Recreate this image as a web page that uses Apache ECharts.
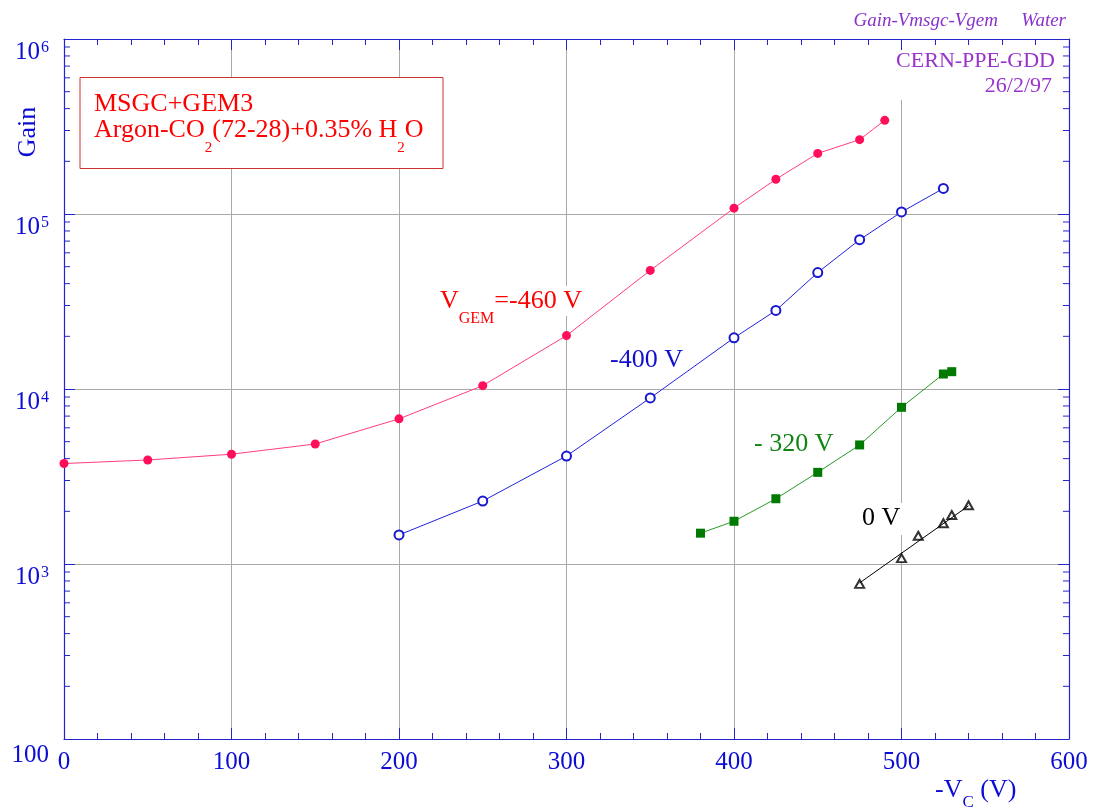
<!DOCTYPE html>
<html>
<head>
<meta charset="utf-8">
<script src="https://cdn.jsdelivr.net/npm/echarts@6/dist/echarts.min.js"></script>
<style>html,body{margin:0;padding:0;background:#fff}#c{width:1093px;height:812px}</style>
</head>
<body>
<div id="c"></div>
<script>
// ---- data ----
const xGem460 = [0, 50, 100, 150, 200, 250, 300, 350, 400, 425, 450, 475, 490];
const gainGem460 = [3750, 3930, 4240, 4850, 6750, 10450, 20200, 47600, 108000, 158000, 222000, 266000, 343000];

const xGem400 = [200, 250, 300, 350, 400, 425, 450, 475, 500, 525];
const gainGem400 = [1465, 2290, 4140, 8890, 19600, 28100, 46300, 71300, 102700, 140000];

const xGem320 = [380, 400, 425, 450, 475, 500, 525, 530];
const gainGem320 = [1500, 1755, 2360, 3340, 4790, 7860, 12180, 12560];

const xGem0 = [475, 500, 510, 525, 530, 540];
const gainGem0 = [770, 1080, 1450, 1710, 1905, 2165];

const xFit0 = [475, 540];
const gainFit0 = [780, 2150];

const xTicks = [0, 100, 200, 300, 400, 500, 600];
const yDecades = [100, 1000, 10000, 100000, 1000000];
const minorMultipliers = [2, 3, 4, 5, 6, 7, 8, 9];

// ---- helpers ----
const pairs = (xs, ys) => xs.map((x, i) => [x, ys[i]]);
const minorTickValues = [];
yDecades.slice(0, -1).forEach(d => minorMultipliers.forEach(m => minorTickValues.push(d * m)));

const SERIF = '"Liberation Serif", "DejaVu Serif", serif';
const AXIS_COLOR = '#2424cc';
const LABEL_COLOR = '#0c0cd4';
const GRID_COLOR = '#aaaaaa';
const RED = '#ff0000';

const chart = echarts.init(document.getElementById('c'), null, {renderer: 'canvas'});

const option = {
  animation: false,
  backgroundColor: '#ffffff',
  grid: {left: 64, right: 24, top: 39, bottom: 73, containLabel: false},
  xAxis: [
    {
      type: 'value', min: xTicks[0], max: xTicks[xTicks.length - 1], interval: 100, position: 'bottom',
      axisLine: {show: true, onZero: false, lineStyle: {color: AXIS_COLOR, width: 1.2}},
      axisTick: {show: true, inside: true, length: 11, lineStyle: {color: AXIS_COLOR, width: 1}},
      minorTick: {show: true, splitNumber: 5, length: 6, lineStyle: {color: AXIS_COLOR, width: 1}},
      axisLabel: {show: true, margin: 11, fontFamily: SERIF, fontSize: 25, color: LABEL_COLOR},
      splitLine: {show: true, showMinLine: false, showMaxLine: false, lineStyle: {color: GRID_COLOR, width: 1}}
    },
    {
      type: 'value', min: xTicks[0], max: xTicks[xTicks.length - 1], interval: 100, position: 'top',
      axisLine: {show: true, onZero: false, lineStyle: {color: AXIS_COLOR, width: 1.2}},
      axisTick: {show: true, inside: true, length: 11, lineStyle: {color: AXIS_COLOR, width: 1}},
      minorTick: {show: true, splitNumber: 5, length: 6, lineStyle: {color: AXIS_COLOR, width: 1}},
      axisLabel: {show: false},
      splitLine: {show: false}
    }
  ],
  yAxis: [
    {
      type: 'log', logBase: 10, min: yDecades[0], max: yDecades[yDecades.length - 1], position: 'left',
      axisLine: {show: true, onZero: false, lineStyle: {color: AXIS_COLOR, width: 1.2}},
      axisTick: {show: true, inside: true, length: 11, lineStyle: {color: AXIS_COLOR, width: 1}},
      axisLabel: {
        show: true, margin: 15, padding: [26, 0, 0, 0],
        formatter: function (v) {
          const e = Math.round(Math.log10(v));
          if (e === 2) return '{c|100}';
          return '{b|10}{s|' + e + '}';
        },
        rich: {
          b: {fontFamily: SERIF, fontSize: 25, lineHeight: 25, verticalAlign: 'bottom', color: LABEL_COLOR},
          s: {fontFamily: SERIF, fontSize: 16, lineHeight: 16, verticalAlign: 'top', padding: [0, 0, 12, 1], color: LABEL_COLOR},
          c: {fontFamily: SERIF, fontSize: 25, lineHeight: 25, padding: [7, 0, 0, 0], color: LABEL_COLOR}
        }
      },
      splitLine: {show: true, showMinLine: false, showMaxLine: false, lineStyle: {color: GRID_COLOR, width: 1}}
    },
    {
      type: 'log', logBase: 10, min: yDecades[0], max: yDecades[yDecades.length - 1], position: 'right',
      axisLine: {show: true, onZero: false, lineStyle: {color: AXIS_COLOR, width: 1.2}},
      axisTick: {show: true, inside: true, length: 11, lineStyle: {color: AXIS_COLOR, width: 1}},
      axisLabel: {show: false},
      splitLine: {show: false}
    }
  ],
  series: [
    {
      name: 'minorLogTicks', type: 'custom', xAxisIndex: 0, yAxisIndex: 0, silent: true, clip: false, z: 3,
      data: minorTickValues.map(v => [0, v]),
      renderItem: function (params, api) {
        const y = api.coord([0, api.value(1)])[1];
        const cs = params.coordSys;
        return {
          type: 'group',
          children: [
            {type: 'line', shape: {x1: cs.x, y1: y, x2: cs.x + 6, y2: y}, style: {stroke: AXIS_COLOR, lineWidth: 1}},
            {type: 'line', shape: {x1: cs.x + cs.width, y1: y, x2: cs.x + cs.width - 6, y2: y}, style: {stroke: AXIS_COLOR, lineWidth: 1}}
          ]
        };
      }
    },
    {
      name: 'VGEM -460 V', type: 'line', data: pairs(xGem460, gainGem460),
      symbol: 'circle', symbolSize: 9,
      itemStyle: {color: '#ff0f5a'},
      lineStyle: {color: '#ff3d80', width: 1}
    },
    {
      name: '-400 V', type: 'line', data: pairs(xGem400, gainGem400),
      symbol: 'emptyCircle', symbolSize: 9,
      itemStyle: {color: '#1818d0', borderWidth: 1.3},
      lineStyle: {color: '#2222dd', width: 1}
    },
    {
      name: '-320 V', type: 'line', data: pairs(xGem320, gainGem320),
      symbol: 'rect', symbolSize: 9,
      itemStyle: {color: '#007a00'},
      lineStyle: {color: '#2a9a2a', width: 1}
    },
    {
      name: '0 V fit', type: 'line', data: pairs(xFit0, gainFit0),
      symbol: 'none', lineStyle: {color: '#000000', width: 1}
    },
    {
      name: '0 V', type: 'scatter', data: pairs(xGem0, gainGem0),
      symbol: 'emptyTriangle', symbolSize: [9, 8],
      itemStyle: {color: '#000000', borderWidth: 1}
    }
  ],
  graphic: [
    // legend box
    {type: 'rect', shape: {x: 80, y: 77.5, width: 363, height: 91}, style: {fill: '#ffffff', stroke: '#cc3333', lineWidth: 1}, z: 100},
    {type: 'text', x: 94, y: 91, z: 101, style: {text: 'MSGC+GEM3', font: '26px ' + SERIF, fill: RED, align: 'left', verticalAlign: 'top'}},
    {type: 'text', x: 94, y: 117.5, z: 101, style: {
      text: '{b|Argon-CO}{s|2}{b|(72-28)+0.35% H}{s|2}{b|O}', align: 'left', verticalAlign: 'top', fill: RED,
      rich: {
        b: {fontFamily: SERIF, fontSize: 26, lineHeight: 26, verticalAlign: 'top', fill: RED},
        s: {fontFamily: SERIF, fontSize: 15, lineHeight: 15, verticalAlign: 'top', padding: [23, 0, 0, 0], fill: RED}
      }
    }},
    // curve labels
    {type: 'text', x: 440, y: 286, z: 101, style: {
      text: '{b|V}{s|GEM}{b|=-460 V}', align: 'left', verticalAlign: 'top', fill: RED, backgroundColor: '#ffffff', padding: [2, 2, 2, 0],
      rich: {
        b: {fontFamily: SERIF, fontSize: 26, lineHeight: 26, verticalAlign: 'top', fill: RED},
        s: {fontFamily: SERIF, fontSize: 16, lineHeight: 16, verticalAlign: 'top', padding: [23, 0, 0, 0], fill: RED}
      }
    }},
    {type: 'text', x: 610, y: 347, z: 101, style: {text: '-400 V', font: '26px ' + SERIF, fill: '#1010cc', align: 'left', verticalAlign: 'top'}},
    {type: 'text', x: 754, y: 431, z: 101, style: {text: '- 320 V', font: '26px ' + SERIF, fill: '#128412', align: 'left', verticalAlign: 'top'}},
    {type: 'text', x: 860, y: 503, z: 101, style: {text: '0 V', font: '26px ' + SERIF, fill: '#000000', align: 'left', verticalAlign: 'top', backgroundColor: '#ffffff', padding: [2, 4, 4, 2]}},
    // stamp
    {type: 'rect', shape: {x: 890, y: 50, width: 170, height: 50}, style: {fill: '#ffffff'}, z: 100},
    {type: 'text', x: 1055, y: 50, z: 101, style: {text: 'CERN-PPE-GDD', font: '22px ' + SERIF, fill: '#9933cc', align: 'right', verticalAlign: 'top'}},
    {type: 'text', x: 1052, y: 75, z: 101, style: {text: '26/2/97', font: '22px ' + SERIF, fill: '#9933cc', align: 'right', verticalAlign: 'top'}},
    // title
    {type: 'text', x: 998, y: 11, z: 101, style: {text: 'Gain-Vmsgc-Vgem', font: 'italic 19px ' + SERIF, fill: '#8833cc', align: 'right', verticalAlign: 'top'}},
    {type: 'text', x: 1066, y: 11, z: 101, style: {text: 'Water', font: 'italic 19px ' + SERIF, fill: '#8833cc', align: 'right', verticalAlign: 'top'}},
    // axis titles
    {type: 'text', x: 28, y: 132, rotation: Math.PI / 2, z: 101, style: {text: 'Gain', font: '26px ' + SERIF, fill: LABEL_COLOR, align: 'center', verticalAlign: 'middle'}},
    {type: 'text', x: 935, y: 777, z: 101, style: {
      text: '{b|-V}{s|C}{b| (V)}', align: 'left', verticalAlign: 'top', fill: LABEL_COLOR,
      rich: {
        b: {fontFamily: SERIF, fontSize: 26, lineHeight: 26, verticalAlign: 'top', fill: LABEL_COLOR},
        s: {fontFamily: SERIF, fontSize: 17, lineHeight: 17, verticalAlign: 'top', padding: [17, 0, 0, 0], fill: LABEL_COLOR}
      }
    }}
  ]
};
chart.setOption(option);
</script>
</body>
</html>
